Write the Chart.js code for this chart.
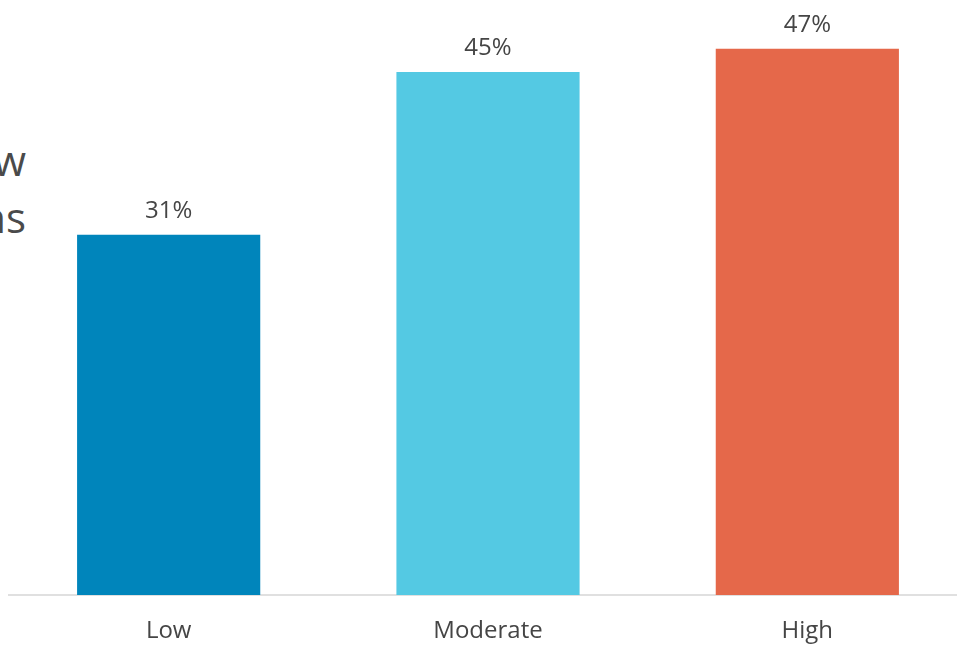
<!DOCTYPE html>
<html>
<head>
<meta charset="utf-8">
<script src="https://cdn.jsdelivr.net/npm/chart.js@4"></script>
<style>
  html, body { margin: 0; padding: 0; background: #fff; overflow: hidden; }
  #wrap { position: relative; width: 957px; height: 648px; overflow: hidden; }
  #chart { position: absolute; left: 0; top: 0; }
  .cut {
    position: absolute; left: -374px; width: 400px; text-align: right;
    font-family: "Open Sans", sans-serif; font-size: 42px; color: #4a4a4a;
    line-height: 57px; top: 131px;
  }
</style>
</head>
<body>
<div id="wrap">
  <div class="cut">w<br>ns</div>
  <canvas id="chart" width="976" height="648"></canvas>
</div>
<script>
const categories = ["Low", "Moderate", "High"];
const shares = [31, 45, 47];
const barColors = ["#0085bb", "#54c9e3", "#e5684a"];

// value labels above each bar
const valueLabels = {
  id: "valueLabels",
  afterDatasetsDraw(chart) {
    const c = chart.ctx;
    const meta = chart.getDatasetMeta(0);
    c.save();
    c.font = "24px 'Open Sans'";
    c.fillStyle = "#454545";
    c.textAlign = "center";
    c.textBaseline = "alphabetic";
    meta.data.forEach((bar, i) => {
      c.fillText(shares[i] + "%", bar.x, bar.y - 17);
    });
    c.restore();
  }
};

const ctx = document.getElementById("chart");
new Chart(ctx, {
  type: "bar",
  data: {
    labels: categories,
    datasets: [{
      data: shares,
      backgroundColor: barColors,
      barPercentage: 0.717,
      categoryPercentage: 0.8
    }]
  },
  options: {
    responsive: false,
    animation: false,
    layout: { padding: { left: 9, right: 9, top: 0, bottom: 0 } },
    plugins: { legend: { display: false }, tooltip: { enabled: false } },
    scales: {
      x: {
        grid: { display: false, drawTicks: false },
        border: { display: true, color: "#e0e0e0", width: 2 },
        ticks: {
          color: "#454545",
          font: { family: "'Open Sans'", size: 24 },
          padding: 22
        },
        afterFit(scale) { scale.height = 53; }
      },
      y: {
        display: false,
        min: 0,
        max: 51.2
      }
    }
  },
  plugins: [valueLabels]
});
</script>
</body>
</html>
